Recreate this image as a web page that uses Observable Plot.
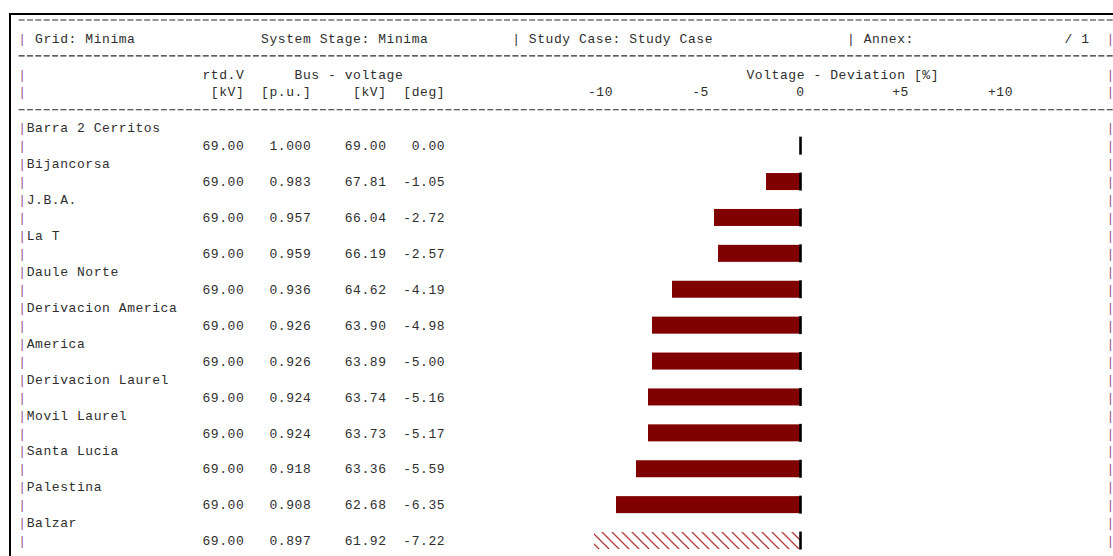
<!DOCTYPE html>
<html>
<head>
<meta charset="utf-8">
<script src="https://cdn.jsdelivr.net/npm/d3@7"></script>
<script src="https://cdn.jsdelivr.net/npm/@observablehq/plot@0.6"></script>
<style>
  html, body { margin: 0; padding: 0; background: #fff; }
  #chart svg text { letter-spacing: 0.57px; }
</style>
</head>
<body>
<div id="chart"></div>
<script>
// ---------------- data ----------------
const buses = [
  "Barra 2 Cerritos", "Bijancorsa", "J.B.A.", "La T", "Daule Norte",
  "Derivacion America", "America", "Derivacion Laurel", "Movil Laurel",
  "Santa Lucia", "Palestina", "Balzar"
];
const ratedKV   = [69.00, 69.00, 69.00, 69.00, 69.00, 69.00, 69.00, 69.00, 69.00, 69.00, 69.00, 69.00];
const voltagePU = [1.000, 0.983, 0.957, 0.959, 0.936, 0.926, 0.926, 0.924, 0.924, 0.918, 0.908, 0.897];
const voltageKV = [69.00, 67.81, 66.04, 66.19, 64.62, 63.90, 63.89, 63.74, 63.73, 63.36, 62.68, 61.92];
const angleDeg  = [0.00, -1.05, -2.72, -2.57, -4.19, -4.98, -5.00, -5.16, -5.17, -5.59, -6.35, -7.22];
const deviationTicks = [-10, -5, 0, 5, 10];
const lowerLimitPU = 0.9;

const gridName   = "Minima";
const stageName  = "Minima";
const studyCase  = "Study Case";
const pageLabel  = "/ 1";
const colTitles1 = ["rtd.V", "Bus - voltage", "Voltage - Deviation [%]"];
const colTitles2 = ["[kV]", "[p.u.]", "[kV]", "[deg]"];

// ---------------- layout / style ----------------
const W = 1113, H = 556;
const CW = 8.37, X0 = 17.8;     // character cell width and left edge of text grid
const LH = 17.95, Y0 = 20;      // line pitch and centre of first report line
const colX = c => X0 + c * CW;
const lineY = L => Y0 + L * LH;
const TEXT = "#2e2e2e";
const PIPE = "#9a4f86";
const BAR = "#800000";
const FONT = "Liberation Mono, Courier New, monospace";
const FS = 13;

const rows = buses.map((bus, i) => ({
  bus,
  rated: ratedKV[i],
  pu: voltagePU[i],
  kv: voltageKV[i],
  deg: angleDeg[i],
  dev: (voltagePU[i] - 1) * 100,
  hatched: voltagePU[i] < lowerLimitPU
}));

const base = {fontFamily: FONT, fontSize: FS, fill: TEXT, lineAnchor: "middle"};

// header text placed on the character grid
const htext = (str, col, line, extra = {}) =>
  Plot.text([str], {...base, text: d => d, frameAnchor: "top-left",
    dx: colX(col), dy: lineY(line), textAnchor: "start", ...extra});

// column text on bus rows (y from band scale)
const rtext = (text, col, anchor, dy, extra = {}) =>
  Plot.text(rows, {...base, y: "bus", text, frameAnchor: "left",
    dx: colX(col), dy, textAnchor: anchor, ...extra});

// pattern definition + report frame decorations
const decor = () => {
  const g = d3.create("svg:g");
  const pat = g.append("defs").append("pattern")
    .attr("id", "hatch").attr("patternUnits", "userSpaceOnUse")
    .attr("width", 10).attr("height", 10);
  pat.append("path")
    .attr("d", "M-1,-1L11,11M-1,9L1,11M9,-1L11,1")
    .attr("stroke", "#b23a3a").attr("stroke-width", 1.3).attr("fill", "none");
  g.append("path").attr("d", `M10,${H} V14 H${W}`)
    .attr("fill", "none").attr("stroke", "#000").attr("stroke-width", 2);
  for (const L of [0, 2, 5]) {
    g.append("line")
      .attr("x1", X0 + 0.8).attr("x2", W)
      .attr("y1", lineY(L)).attr("y2", lineY(L))
      .attr("stroke", "#2a2a2a").attr("stroke-width", 1.2)
      .attr("stroke-dasharray", `6,${(CW - 6).toFixed(2)}`);
  }
  return g.node();
};

const pipeCols = [0, 130];
const headerPipes = [];
for (const L of [1, 3, 4]) for (const c of pipeCols) headerPipes.push(htext("|", c, L, {fill: PIPE}));
const rowPipes = [];
for (const c of pipeCols) for (const dy of [-LH, 0]) rowPipes.push(rtext(() => "|", c, "start", dy, {fill: PIPE}));

const chart = Plot.plot({
  width: W,
  height: H,
  margin: 0,
  style: {fontFamily: FONT, fontSize: FS + "px", background: "#fff", overflow: "visible"},
  x: {domain: [-10, 10], range: [600, 1000], axis: null},
  y: {type: "band", domain: buses, range: [lineY(6), lineY(30)], padding: 0, round: false, axis: null},
  marks: [
    decor,
    // header line 1
    htext("Grid: " + gridName, 2, 1),
    htext("System Stage: " + stageName, 29, 1),
    htext("|", 59, 1),
    htext("Study Case: " + studyCase, 61, 1),
    htext("|", 99, 1),
    htext("Annex:", 101, 1),
    htext(pageLabel, 125, 1),
    // column titles
    htext(colTitles1[0], 22, 3),
    htext(colTitles1[1], 33, 3),
    htext(colTitles1[2], 87, 3),
    htext(colTitles2[0], 23, 4),
    htext(colTitles2[1], 29, 4),
    htext(colTitles2[2], 40, 4),
    htext(colTitles2[3], 46, 4),
    // deviation axis labels through the x scale
    Plot.text(deviationTicks, {...base, x: d => d, text: d => (d > 0 ? "+" + d : String(d)),
      frameAnchor: "top", dy: lineY(4), textAnchor: "middle"}),
    ...headerPipes,
    // bus rows
    rtext("bus", 1, "start", -LH),
    rtext(d => d.rated.toFixed(2), 27, "end", 0),
    rtext(d => d.pu.toFixed(3), 35, "end", 0),
    rtext(d => d.kv.toFixed(2), 44, "end", 0),
    rtext(d => d.deg.toFixed(2), 51, "end", 0),
    ...rowPipes,
    // deviation bars
    Plot.barX(rows, {filter: d => !d.hatched, x1: () => 0, x2: "dev", y: "bus",
      fill: BAR, insetTop: 9.45, insetBottom: 9.45}),
    Plot.barX(rows, {filter: d => d.hatched, x1: () => 0, x2: "dev", y: "bus",
      fill: "url(#hatch)", insetTop: 9.45, insetBottom: 9.45}),
    Plot.tickX(rows, {x: () => 0, y: "bus", stroke: "#000", strokeWidth: 2.6,
      insetTop: 8.95, insetBottom: 8.95})
  ]
});

document.getElementById("chart").appendChild(chart);
</script>
</body>
</html>
